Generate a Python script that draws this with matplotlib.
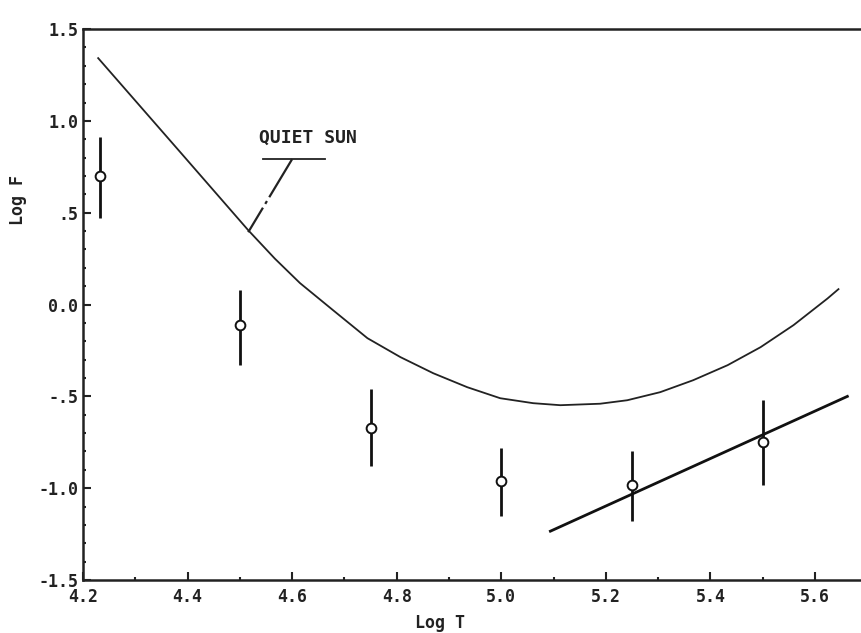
import numpy as np
import matplotlib.pyplot as plt
from matplotlib.ticker import MultipleLocator, FixedLocator

# ── DATA ──
log_t = [4.232, 4.50, 4.75, 5.00, 5.25, 5.50]
log_f = [0.70, -0.11, -0.67, -0.96, -0.98, -0.75]
err_hi = [0.21, 0.19, 0.21, 0.18, 0.18, 0.23]
err_lo = [0.23, 0.22, 0.21, 0.19, 0.20, 0.23]

# quiet sun curve
qs_t = [4.229, 4.386, 4.516, 4.567, 4.615, 4.648, 4.678, 4.744,
        4.807, 4.870, 4.935, 4.998, 5.061, 5.113, 5.189, 5.241,
        5.304, 5.367, 5.433, 5.496, 5.559, 5.624, 5.645]
qs_f = [1.342, 0.830, 0.405, 0.250, 0.117, 0.040, -0.030, -0.183,
        -0.286, -0.374, -0.450, -0.510, -0.537, -0.548, -0.540, -0.521,
        -0.477, -0.412, -0.330, -0.232, -0.112, 0.033, 0.084]

# straight fit line
fit_t = [5.094, 5.662]
fit_f = [-1.234, -0.50]

yticks = [1.5, 1.0, 0.5, 0.0, -0.5, -1.0, -1.5]
ytick_labels = ['1.5', '1.0', '.5', '0.0', '-.5', '-1.0', '-1.5']
xticks = [4.2, 4.4, 4.6, 4.8, 5.0, 5.2, 5.4, 5.6]
xtick_labels = ['4.2', '4.4', '4.6', '4.8', '5.0', '5.2', '5.4', '5.6']

plt.rcParams['font.family'] = ['DejaVu Sans Mono']

fig = plt.figure(figsize=(8.62, 6.33), dpi=100)
ax = fig.add_axes([0.0963, 0.0837, 0.9037, 0.8703])

ax.plot(qs_t, qs_f, color='#222222', lw=1.3)
ax.plot(fit_t, fit_f, color='#111111', lw=2.0)
ax.errorbar(log_t, log_f, yerr=[err_lo, err_hi], fmt='o',
            color='#111111', ecolor='#111111', elinewidth=2.0,
            capsize=0, markersize=7, markerfacecolor='white',
            markeredgewidth=1.4, zorder=3)

# annotation
ax.text(4.630, 0.906, 'QUIET SUN', ha='center', va='center',
        fontsize=13, fontweight='bold', color='#222222')
ax.plot([4.5445, 4.663], [0.792, 0.792], color='#222222', lw=1.3)
ax.plot([4.600, 4.516], [0.792, 0.394], color='#222222', lw=1.6,
        linestyle=(0, (20, 2, 1.5, 2)))

ax.set_xlim(4.2, 5.69)
ax.set_ylim(-1.5, 1.5)
ax.xaxis.set_major_locator(FixedLocator(xticks))
ax.set_xticklabels(xtick_labels)
ax.yaxis.set_major_locator(FixedLocator(yticks))
ax.set_yticklabels(ytick_labels)
ax.xaxis.set_minor_locator(MultipleLocator(0.1))
ax.yaxis.set_minor_locator(MultipleLocator(0.1))
ax.tick_params(which='both', direction='in', width=1.5, labelsize=12,
               right=False, top=False, colors='#222222')
ax.tick_params(which='major', length=6)
ax.tick_params(which='minor', length=2.5)
ax.tick_params(axis='x', pad=6)
for lab in ax.get_xticklabels() + ax.get_yticklabels():
    lab.set_fontweight('bold')

ax.spines['right'].set_visible(False)
for s in ['left', 'bottom', 'top']:
    ax.spines[s].set_linewidth(1.8)
    ax.spines[s].set_color('#222222')

ax.set_xlabel('Log T', fontsize=12, fontweight='bold', color='#222222')
ax.set_ylabel('Log F', fontsize=12, fontweight='bold', color='#222222')
ax.xaxis.set_label_coords(0.458, -0.078)
ax.xaxis.label.set_verticalalignment('center')
ax.yaxis.set_label_coords(-0.083, 0.69)
ax.yaxis.label.set_verticalalignment('center')

fig.savefig('out.png', dpi=100)
